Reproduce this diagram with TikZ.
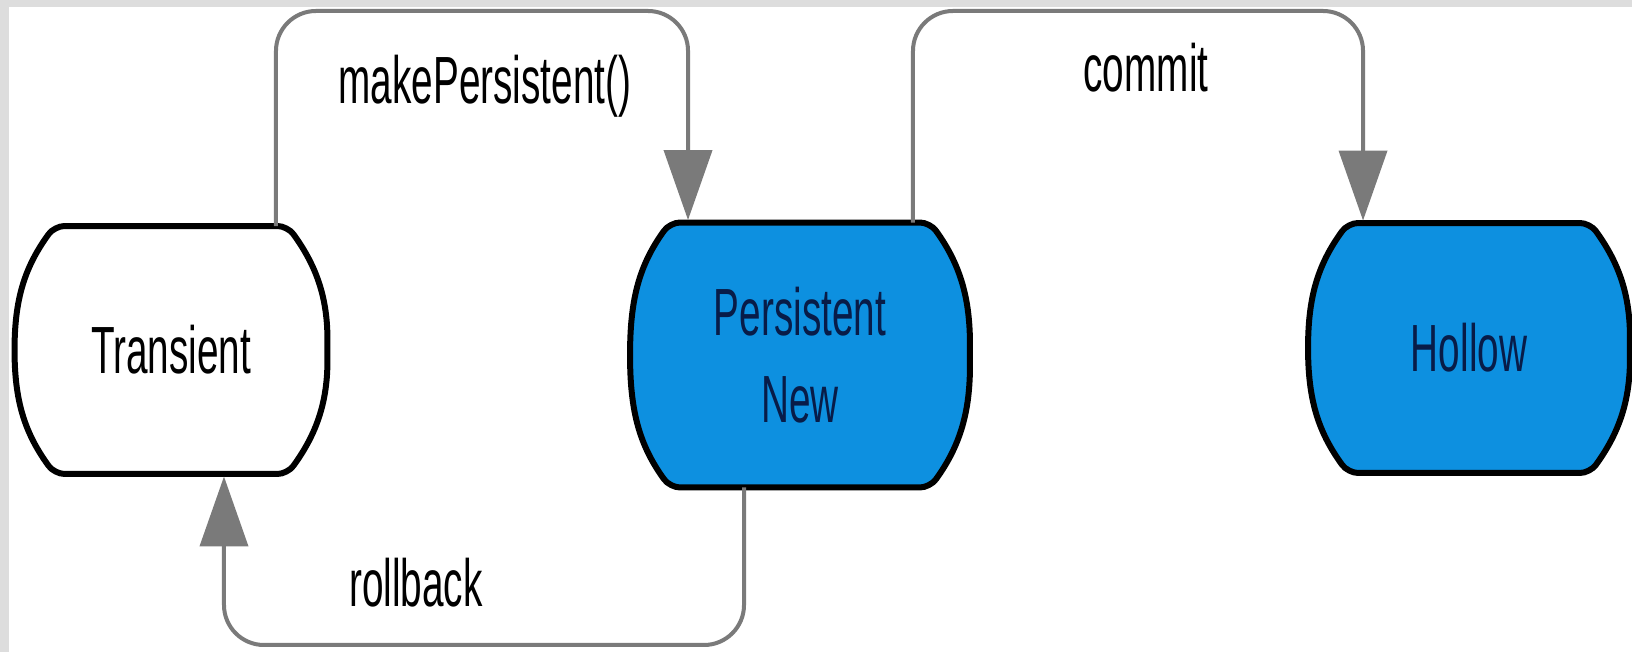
\documentclass[tikz,border=0pt]{standalone}
\usepackage{fontspec}
\setmainfont{Liberation Sans}[FakeStretch=0.58]
\usetikzlibrary{arrows.meta,backgrounds}
\definecolor{stateblue}{RGB}{13,144,224}
\definecolor{statetext}{RGB}{8,28,72}
\definecolor{flowgray}{RGB}{122,122,122}
\definecolor{framegray}{RGB}{221,221,221}
% barrel outline round a state node: #1 node, #2 fill
\newcommand{\statebody}[2]{%
  \filldraw[body,fill=#2](#1.west) to[out=90,in=-126]([xshift=0.8cm]#1.north west)
    --([xshift=-0.8cm]#1.north east)
    to[out=-54,in=90](#1.east) to[out=-90,in=54]([xshift=-0.8cm]#1.south east)
    --([xshift=0.8cm]#1.south west) to[out=126,in=-90](#1.west);}

\begin{document}
\begin{tikzpicture}[x=0.02cm,y=0.02cm,
    state/.style={rectangle,inner sep=0pt,outer sep=0pt,align=center,
        font=\fontsize{38}{49.5}\selectfont},
    persisted/.style={state,text=statetext},
    body/.style={draw=black,line width=0.12cm,rounded corners=0.2cm,line cap=round},
    flow/.style={draw=flowgray,line width=0.08cm,rounded corners=0.8cm,shorten >=0.05cm,
        -{Triangle[width=0.96cm,length=1.4cm]}},
    flowlabel/.style={anchor=base,font=\fontsize{38}{49.5}\selectfont}]
    \useasboundingbox (0,0) rectangle (1632,652);

    \node[state,minimum width=6.26cm,minimum height=4.96cm](tr) at (171,302){Transient};
    \node[persisted,minimum width=6.8cm,minimum height=5.3cm](pn) at (800,297){Persistent\\New};
    \node[persisted,minimum width=6.44cm,minimum height=5cm](ho) at (1469,304){Hollow};

    \begin{scope}[on background layer]
        \fill[framegray](0,0) rectangle (1632,652);
        \fill[white](9,0) rectangle (1632,645);
        \statebody{tr}{white}
        \statebody{pn}{stateblue}
        \statebody{ho}{stateblue}
    \end{scope}

    \coordinate (mptop) at (480,641);
    \coordinate (cmtop) at (1140,641);
    \coordinate (rbbot) at (480,7);

    \draw[flow]([xshift=2.1cm]tr.north)|-(mptop)-|([xshift=-2.24cm]pn.north);
    \draw[flow]([xshift=2.26cm]pn.north)|-(cmtop)-|([xshift=-2.12cm]ho.north);
    \draw[flow]([xshift=-1.12cm]pn.south)|-(rbbot)-|([xshift=1.06cm]tr.south);

    \node[flowlabel](mp) at (485,548){makePersistent()};
    \node[flowlabel](cm) at (1146,560){commit};
    \node[flowlabel](rb) at (416,45){rollback};
\end{tikzpicture}
\end{document}
